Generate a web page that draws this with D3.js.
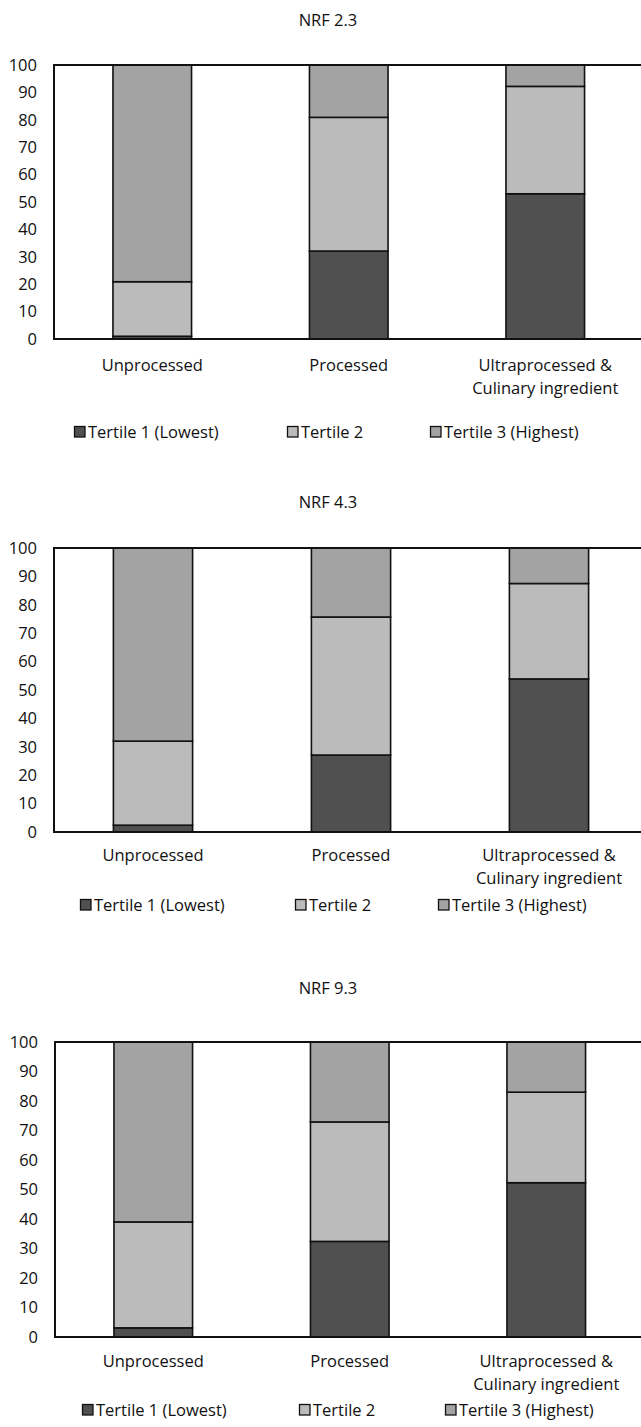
<!DOCTYPE html>
<html>
<head>
<meta charset="utf-8">
<script src="https://cdn.jsdelivr.net/npm/d3@7"></script>
<style>
  html, body { margin: 0; padding: 0; background: #fff; }
  svg text { font-family: "Open Sans", "Noto Sans", sans-serif; fill: #111; }
</style>
</head>
<body>
<div id="chart"></div>
<script>
// Categories and series (percent of foods in each tertile)
const categories = ["Unprocessed", "Processed", "Ultraprocessed & Culinary ingredient"];
const categoryLines = [["Unprocessed"], ["Processed"], ["Ultraprocessed &", "Culinary ingredient"]];
const tertiles = ["Tertile 1 (Lowest)", "Tertile 2", "Tertile 3 (Highest)"];
const tertileColors = ["#505050", "#bbbbbb", "#a3a3a3"];
const yTicks = [0, 10, 20, 30, 40, 50, 60, 70, 80, 90, 100];

const panelTitles = ["NRF 2.3", "NRF 4.3", "NRF 9.3"];

const nrf23Tertile1 = [1.0, 32.1, 53.0];
const nrf23Tertile2 = [19.9, 48.8, 39.2];
const nrf23Tertile3 = [79.1, 19.1, 7.8];

const nrf43Tertile1 = [2.4, 27.1, 53.9];
const nrf43Tertile2 = [29.6, 48.6, 33.6];
const nrf43Tertile3 = [68.0, 24.3, 12.5];

const nrf93Tertile1 = [3.1, 32.4, 52.3];
const nrf93Tertile2 = [35.9, 40.5, 30.7];
const nrf93Tertile3 = [61.0, 27.1, 17.0];

const panelSeries = [
    [nrf23Tertile1, nrf23Tertile2, nrf23Tertile3],
    [nrf43Tertile1, nrf43Tertile2, nrf43Tertile3],
    [nrf93Tertile1, nrf93Tertile2, nrf93Tertile3]
];

// Layout per panel (pixel positions in the page)
const layouts = [
    { titleY: 20,  top: 65,   bottom: 339,  left: 54, step: 196.5, labelY: 365,  lineGap: 23, legendY: 432,  legendX: [74, 287, 430] },
    { titleY: 502, top: 548,  bottom: 832,  left: 54, step: 198,   labelY: 855,  lineGap: 23, legendY: 905,  legendX: [80, 295, 438] },
    { titleY: 988, top: 1042, bottom: 1337, left: 55, step: 196.5, labelY: 1361, lineGap: 23, legendY: 1410, legendX: [82, 299, 445] }
];

const FONT = "16.5px";
const W = 641, H = 1427;
const svg = d3.select("#chart").append("svg")
    .attr("width", W)
    .attr("height", H);

panelTitles.forEach((title, p) => {
    const L = layouts[p];
    const series = panelSeries[p];
    const g = svg.append("g");

    const x = d3.scaleBand()
        .domain(categories)
        .range([L.left, L.left + 3 * L.step])
        .paddingInner(0.6)
        .paddingOuter(0.3);

    const y = d3.scaleLinear()
        .domain([0, 100])
        .range([L.bottom, L.top]);

    // title
    g.append("text")
        .attr("x", 328)
        .attr("y", L.titleY)
        .attr("dy", "0.35em")
        .attr("text-anchor", "middle")
        .style("font-size", FONT)
        .text(title);

    // stacked data
    const rows = categories.map((c, i) => {
        const r = { category: c };
        tertiles.forEach((t, k) => { r[t] = series[k][i]; });
        return r;
    });
    const stacked = d3.stack().keys(tertiles)(rows);

    g.selectAll(".layer")
        .data(stacked)
        .join("g")
        .attr("fill", (d, k) => tertileColors[k])
        .selectAll("rect")
        .data(d => d)
        .join("rect")
        .attr("x", d => x(d.data.category))
        .attr("width", x.bandwidth())
        .attr("y", d => y(d[1]))
        .attr("height", d => y(d[0]) - y(d[1]))
        .attr("stroke", "#111")
        .attr("stroke-width", 1.6);

    // plot frame
    g.append("rect")
        .attr("x", L.left)
        .attr("y", L.top)
        .attr("width", 3 * L.step)
        .attr("height", L.bottom - L.top)
        .attr("fill", "none")
        .attr("stroke", "#111")
        .attr("stroke-width", 2);

    // y axis labels
    const yAxis = g.append("g")
        .attr("transform", `translate(${L.left},0)`)
        .call(d3.axisLeft(y).tickValues(yTicks).tickSize(0).tickPadding(17));
    yAxis.select(".domain").remove();
    yAxis.selectAll("text")
        .style("font-size", FONT)
        .attr("fill", "#111");

    // category labels
    const xAxis = g.append("g")
        .attr("transform", `translate(0,${L.labelY})`)
        .call(d3.axisBottom(x).tickSize(0).tickPadding(0));
    xAxis.select(".domain").remove();
    xAxis.selectAll("text")
        .style("font-size", FONT)
        .attr("fill", "#111")
        .attr("y", 0)
        .attr("dy", null)
        .each(function(d, i) {
            const t = d3.select(this).text("");
            categoryLines[i].forEach((line, j) => {
                t.append("tspan")
                    .attr("x", 0)
                    .attr("y", j * L.lineGap)
                    .attr("dy", "0.35em")
                    .text(line);
            });
        });

    // legend
    const legend = g.selectAll(".legend")
        .data(tertiles)
        .join("g")
        .attr("transform", (d, k) => `translate(${L.legendX[k]},${L.legendY})`);
    legend.append("rect")
        .attr("x", 0.5)
        .attr("y", -5.5)
        .attr("width", 10.5)
        .attr("height", 10.5)
        .attr("fill", (d, k) => tertileColors[k])
        .attr("stroke", "#111")
        .attr("stroke-width", 1.3);
    legend.append("text")
        .attr("x", 14)
        .attr("y", 0)
        .attr("dy", "0.35em")
        .style("font-size", FONT)
        .text(d => d);
});
</script>
</body>
</html>
